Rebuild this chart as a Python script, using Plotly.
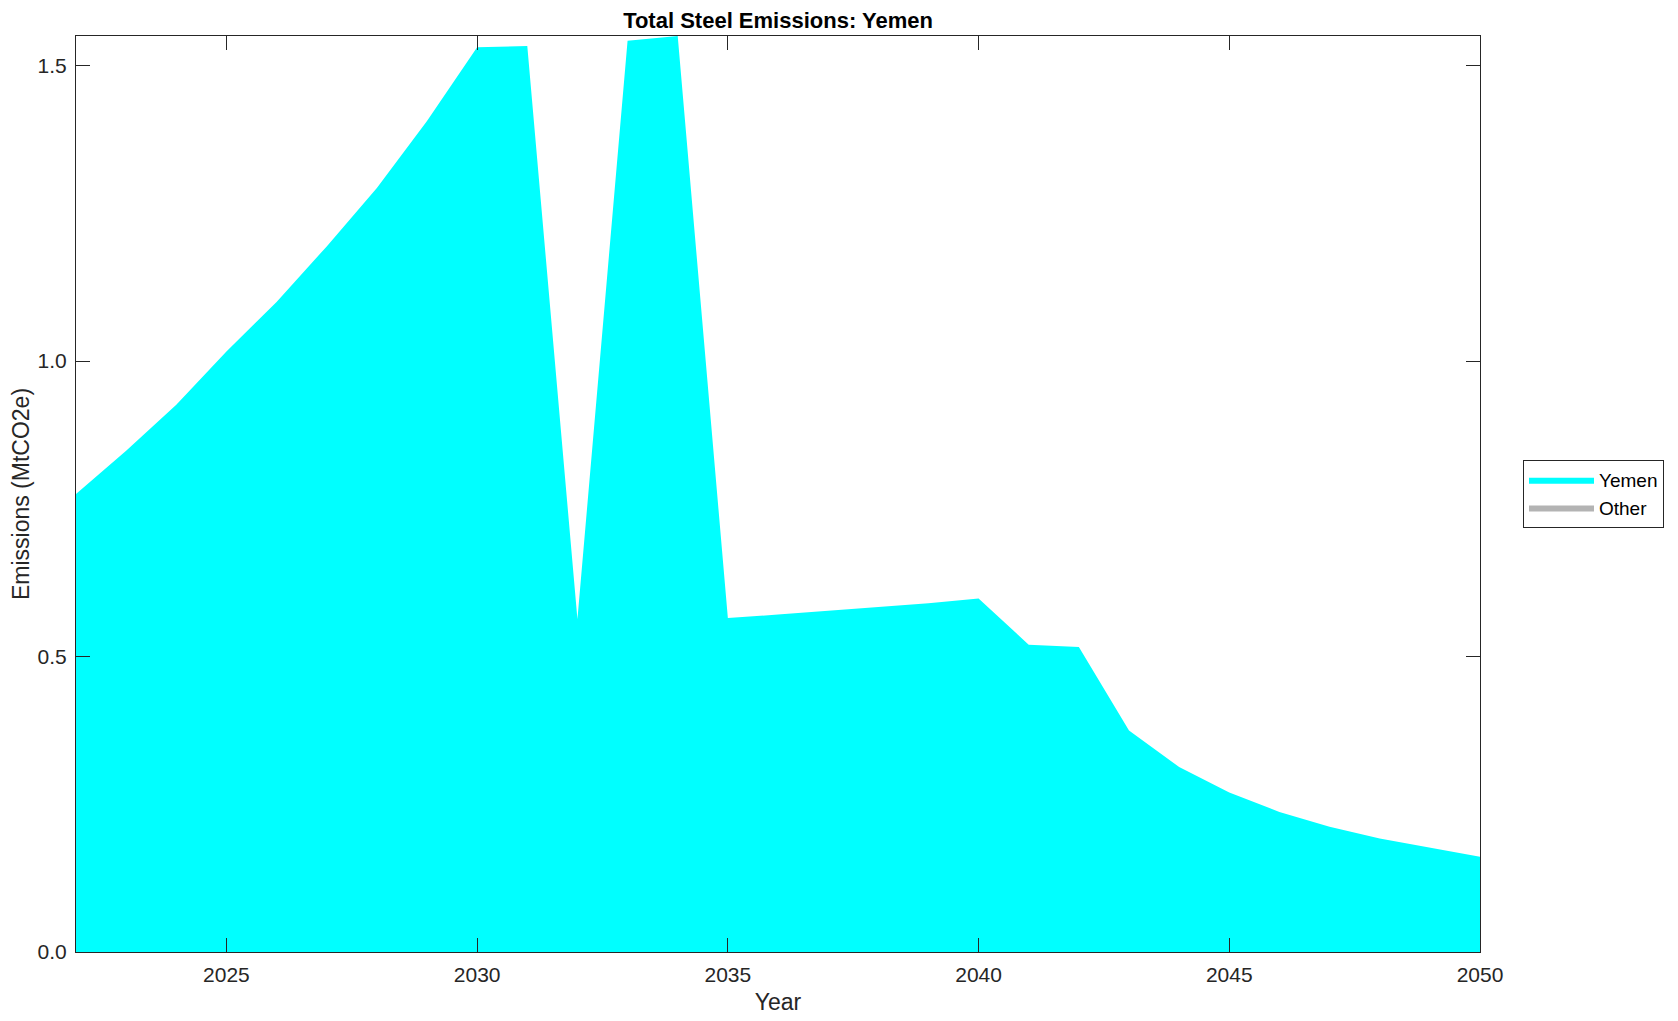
import plotly.graph_objects as go

years = list(range(2022, 2051))
yemen = [0.775, 0.848, 0.926, 1.016, 1.100, 1.194, 1.293, 1.406, 1.531, 1.533,
         0.563, 1.542, 1.550, 0.565, 0.571, 0.577, 0.583, 0.590, 0.598, 0.520,
         0.516, 0.375, 0.313, 0.270, 0.237, 0.212, 0.192, 0.176, 0.161]
other = [0.0] * len(years)

font = "Liberation Sans, Arial, Helvetica, sans-serif"

fig = go.Figure()
fig.add_trace(go.Scatter(
    x=years, y=yemen, name="Yemen", mode="lines", stackgroup="one",
    line=dict(width=0, color="#00ffff"), fillcolor="#00ffff",
))
fig.add_trace(go.Scatter(
    x=years, y=other, name="Other", mode="lines", stackgroup="one",
    line=dict(width=0, color="#b3b3b3"), fillcolor="#b3b3b3",
))

axis_common = dict(
    showline=True, linecolor="#262626", linewidth=1, mirror="ticks",
    ticks="inside", ticklen=14, tickcolor="#262626", tickwidth=1,
    showgrid=False, zeroline=False, ticklabelstandoff=4, automargin=False,
    tickfont=dict(family=font, size=21, color="#262626"),
)

# page has an 8px body margin, so margins are offset by it
ml, mr, mt, mb = 68, 206, 28, 77
plot_w = 1678 - ml - mr

fig.update_layout(
    width=1678, height=1021,
    paper_bgcolor="white", plot_bgcolor="white",
    margin=dict(l=ml, r=mr, t=mt, b=mb),
    title=dict(text="<b>Total Steel Emissions: Yemen</b>", x=(ml + plot_w / 2) / 1678,
               xanchor="center", y=1 - 12 / 1021, yanchor="middle",
               font=dict(family=font, size=22, color="black")),
    xaxis=dict(range=[2022, 2050], tickvals=[2025, 2030, 2035, 2040, 2045, 2050],
               title=dict(text="Year", font=dict(family=font, size=23, color="#262626"), standoff=8),
               **axis_common),
    yaxis=dict(range=[0, 1.55], tickvals=[0, 0.5, 1.0, 1.5], tickformat=".1f",
               title=dict(text="Emissions (MtCO2e)", font=dict(family=font, size=23, color="#262626"), standoff=6),
               **axis_common),
    legend=dict(x=(1515 - ml) / plot_w, xanchor="left", y=0.5, yanchor="middle",
                bordercolor="#262626", borderwidth=1, bgcolor="white",
                font=dict(family=font, size=19, color="black"),
                traceorder="normal", itemwidth=65, tracegroupgap=0),
    showlegend=True,
)

fig.write_html("out.html")
